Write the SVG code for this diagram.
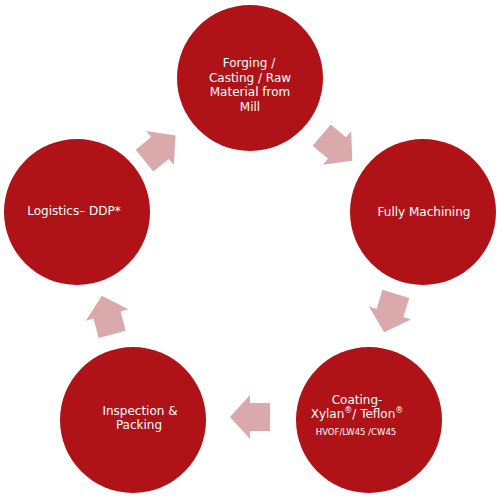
<svg xmlns="http://www.w3.org/2000/svg" width="497" height="502" viewBox="0 0 497 502">
<defs>
<style>
.node{fill:#B01317;}
.arr{fill:#D9A9AB;}
.t{font-family:"DejaVu Sans","Liberation Sans",sans-serif;font-size:12px;fill:#FFFFFF;text-anchor:middle;}
.s{font-size:8.5px;}
.sup{font-size:8px;}
</style>
<path id="arrow" d="M-20,-14 L0,-14 L0,-22 L20,0 L0,22 L0,14 L-20,14 Z"/>
</defs>
<rect width="497" height="502" fill="#FFFFFF"/>
<g id="connectors">
<use href="#arrow" class="arr" transform="translate(160,148) rotate(-39)"/>
<use href="#arrow" class="arr" transform="translate(337,148) rotate(40)"/>
<use href="#arrow" class="arr" transform="translate(390,313) rotate(107)"/>
<use href="#arrow" class="arr" transform="translate(250,417) rotate(180)"/>
<use href="#arrow" class="arr" transform="translate(107,315) rotate(-105)"/>
</g>
<g id="node-forging">
<circle class="node" cx="250" cy="78" r="73"/>
<text class="t" x="249" y="67">Forging /</text>
<text class="t" x="250" y="81.5">Casting / Raw</text>
<text class="t" x="250" y="96">Material from</text>
<text class="t" x="250" y="110.5">Mill</text>
</g>
<g id="node-machining">
<circle class="node" cx="423" cy="212" r="73"/>
<text class="t" x="424" y="216">Fully Machining</text>
</g>
<g id="node-coating">
<circle class="node" cx="369" cy="420" r="73"/>
<text class="t" x="357" y="403.5">Coating-</text>
<text class="t" x="357" y="418">Xylan<tspan class="sup" dy="-5">®</tspan><tspan dy="5">/ Teflon</tspan><tspan class="sup" dy="-5">®</tspan></text>
<text class="t s" x="356" y="435">HVOF/LW45 /CW45</text>
</g>
<g id="node-inspection">
<circle class="node" cx="133" cy="420" r="73"/>
<text class="t" x="140" y="414.5">Inspection &amp;</text>
<text class="t" x="139" y="429">Packing</text>
</g>
<g id="node-logistics">
<circle class="node" cx="77" cy="212" r="73"/>
<text class="t" x="74" y="215">Logistics– DDP*</text>
</g>
</svg>
